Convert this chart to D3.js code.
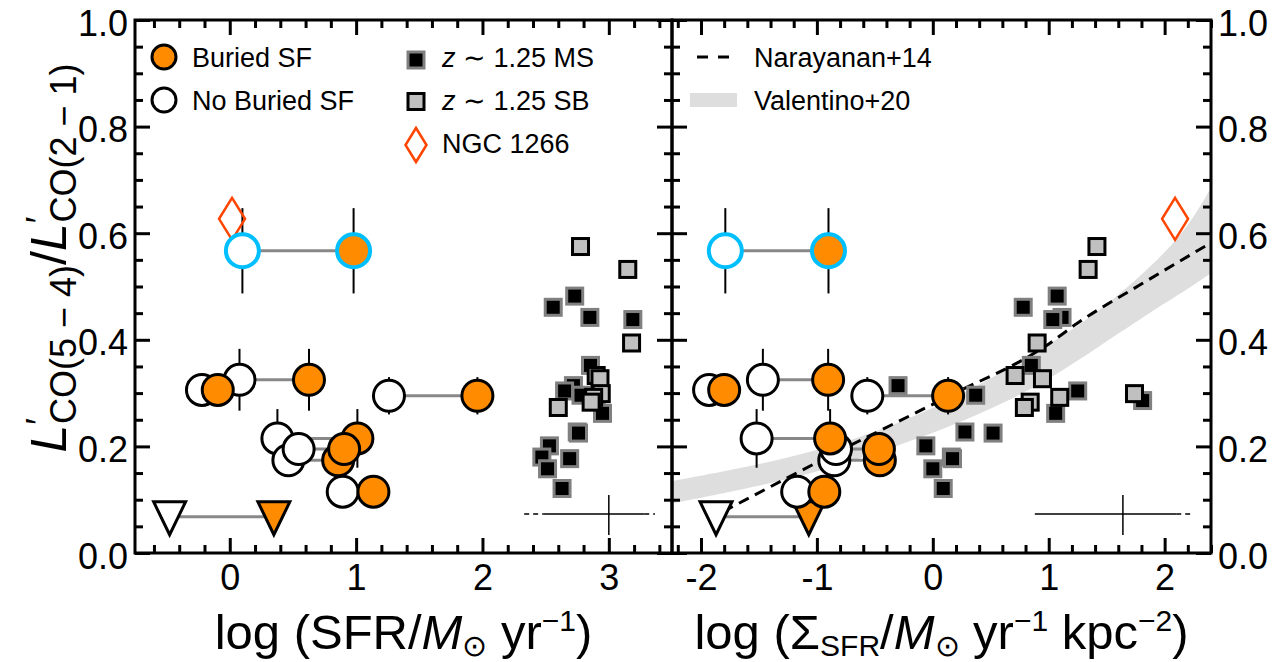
<!DOCTYPE html>
<html>
<head>
<meta charset="utf-8">
<script src="https://cdn.jsdelivr.net/npm/d3@7"></script>
<style>
  body { margin: 0; background: #fff; }
  text { font-family: "Liberation Sans", Arial, Helvetica, sans-serif; }
</style>
</head>
<body>
<div id="chart"></div>
<script>
// --- our sample: each galaxy has an open (no buried SF) and a filled (buried SF) point
const ratio      = [0.567, 0.325, 0.306, 0.295, 0.215, 0.174, 0.195, 0.115];
const ratioErr   = [0.08, 0.058, 0, 0.035, 0.055, 0, 0, 0];
const sfrOpen    = [0.10, 0.077, -0.22, 1.26, 0.377, 0.464, 0.545, 0.894];
const sfrBuried  = [0.98, 0.627, -0.095, 1.96, 1.01, 0.858, 0.905, 1.137];
const sigOpen    = [-1.79, -1.466, -1.93, -0.565, -1.52, -0.85, -0.835, -1.17];
const sigBuried  = [-0.90, -0.903, -1.80, 0.132, -0.886, -0.457, -0.465, -0.936];
const highlight  = [true, false, false, false, false, false, false, false];

// upper limit galaxy (triangles)
const limRatio     = [0.068];
const limSfrOpen   = [-0.476];
const limSfrBuried = [0.349];
const limSigOpen   = [-1.87];
const limSigBuried = [-1.07];

// NGC 1266
const ngcRatio = [0.627];
const ngcSfr   = [0.018];
const ngcSig   = [2.09];

// z ~ 1.25 main sequence
const msRatio = [0.482, 0.461, 0.442, 0.438, 0.352, 0.314, 0.304, 0.296, 0.286, 0.262, 0.227, 0.225, 0.201, 0.180, 0.177, 0.158, 0.121];
const msSfr   = [2.73, 2.56, 2.85, 3.19, 2.855, 2.72, 2.65, 2.78, 2.90, 2.95, 2.75, 2.76, 2.53, 2.47, 2.69, 2.515, 2.63];
const msSig   = [1.073, 0.78, 1.115, 1.035, 0.85, -0.30, 1.25, 0.37, 1.81, 1.06, 0.277, 0.52, -0.06, 0.16, 0.17, 0.0, 0.09];

// z ~ 1.25 starbursts
const sbRatio = [0.575, 0.532, 0.394, 0.333, 0.327, 0.299, 0.292, 0.283, 0.273];
const sbSfr   = [2.776, 3.15, 3.18, 2.90, 2.93, 2.94, 2.88, 2.86, 2.60];
const sbSig   = [1.416, 1.34, 0.90, 0.71, 0.946, 1.74, 1.095, 0.84, 0.79];

// typical uncertainty crosses
const crossSfr = { x: 3.0, y: 0.073, solid: [2.48, 3.28], dash: [[2.33, 2.48], [3.28, 3.365]], yr: [0.034, 0.109] };
const crossSig = { x: 1.64, y: 0.073, solid: [0.88, 2.10], dash: [[2.10, 2.22]], yr: [0.034, 0.109] };

// Narayanan+14 model
const narX = [-1.81, -0.9, 0.126, 0.985, 1.24, 1.81, 2.4];
const narY = [0.0775, 0.181, 0.293, 0.39, 0.43, 0.506, 0.582];

// Valentino+20 band
const valX  = [-2.25, -1.5, -0.9, -0.45, 0.13, 0.6, 1.0, 1.45, 1.9, 2.2, 2.4];
const valLo = [0.093, 0.125, 0.158, 0.19, 0.235, 0.28, 0.325, 0.39, 0.455, 0.495, 0.525];
const valHi = [0.135, 0.165, 0.198, 0.23, 0.283, 0.34, 0.39, 0.455, 0.54, 0.61, 0.685];

// ticks
const sfrTicks = [0, 1, 2, 3];
const sigTicks = [-2, -1, 0, 1, 2];
const sigTickLabels = ["-2", "-1", "0", "1", "2"];
const ratioTicks = [0, 0.2, 0.4, 0.6, 0.8, 1.0];

const orange = "#ff8c00", cyan = "#00bfff", ngcRed = "#ff4500";

const width = 1283, height = 662;
const svg = d3.select("#chart").append("svg")
  .attr("width", width)
  .attr("height", height);

const y = d3.scaleLinear().domain([0, 1]).range([553, 20]);
const xSfr = d3.scaleLinear().domain([-0.75, 3.5]).range([135, 672]);
const xSig = d3.scaleLinear().domain([-2.25, 2.4]).range([672, 1211]);

const minorY = d3.range(0, 1.0001, 0.05).filter(v => Math.abs(v * 5 - Math.round(v * 5)) > 1e-6);

function minorX(x) {
  const [a, b] = x.domain();
  return d3.range(Math.ceil(a * 5), Math.floor(b * 5) + 1).map(v => v / 5).filter(v => Math.abs(v - Math.round(v)) > 1e-6);
}

function styleAxis(g, fs) {
  g.select(".domain").remove();
  g.selectAll(".tick line").attr("stroke", "#000").attr("stroke-width", 3);
  g.selectAll(".tick text").attr("fill", "#000").style("font-size", fs + "px");
}

function drawFrame(x, majors, labels, side) {
  const [x0, x1] = x.range();
  const fmt = d => labels[majors.indexOf(d)];
  // bottom
  svg.append("g").attr("transform", `translate(0,${y(0)})`)
    .call(d3.axisBottom(x).tickValues(majors).tickSize(-15).tickPadding(11).tickFormat(fmt))
    .call(g => styleAxis(g, 36));
  svg.append("g").attr("transform", `translate(0,${y(0)})`)
    .call(d3.axisBottom(x).tickValues(minorX(x)).tickSize(-8).tickFormat(""))
    .call(g => styleAxis(g, 36));
  // top
  svg.append("g").attr("transform", `translate(0,${y(1)})`)
    .call(d3.axisTop(x).tickValues(majors).tickSize(-15).tickFormat(""))
    .call(g => styleAxis(g, 36));
  svg.append("g").attr("transform", `translate(0,${y(1)})`)
    .call(d3.axisTop(x).tickValues(minorX(x)).tickSize(-8).tickFormat(""))
    .call(g => styleAxis(g, 36));
  // left / right
  const yl = d3.axisLeft(y).tickValues(ratioTicks).tickSize(-15).tickPadding(7).tickFormat(side === "left" ? d3.format(".1f") : "");
  const yr = d3.axisRight(y).tickValues(ratioTicks).tickSize(-15).tickPadding(7).tickFormat(side === "right" ? d3.format(".1f") : "");
  svg.append("g").attr("transform", `translate(${x0},0)`).call(yl).call(g => styleAxis(g, 36))
    .selectAll(".tick text").attr("dy", "0.42em");
  svg.append("g").attr("transform", `translate(${x1},0)`).call(yr).call(g => styleAxis(g, 36))
    .selectAll(".tick text").attr("dy", "0.42em");
  svg.append("g").attr("transform", `translate(${x0},0)`)
    .call(d3.axisLeft(y).tickValues(minorY).tickSize(-8).tickFormat("")).call(g => styleAxis(g, 36));
  svg.append("g").attr("transform", `translate(${x1},0)`)
    .call(d3.axisRight(y).tickValues(minorY).tickSize(-8).tickFormat("")).call(g => styleAxis(g, 36));
  svg.append("rect")
    .attr("x", x0).attr("y", y(1))
    .attr("width", x1 - x0).attr("height", y(0) - y(1))
    .attr("fill", "none").attr("stroke", "#000").attr("stroke-width", 3);
}

const triPath = "M-16,-15L16,-15L0,18Z";
const sq = 16;

function drawPanel(x, xOpen, xBuried, limOpen, limBuried, msX, sbX, ngcX, cross, clipId) {
  const g = svg.append("g").attr("clip-path", `url(#${clipId})`);

  // comparison squares
  g.append("g").selectAll("rect")
    .data(msX.map((v, i) => [v, msRatio[i]]))
    .join("rect")
    .attr("x", d => x(d[0]) - sq / 2).attr("y", d => y(d[1]) - sq / 2)
    .attr("width", sq).attr("height", sq)
    .attr("fill", "#000").attr("stroke", "#808080").attr("stroke-width", 3);
  g.append("g").selectAll("rect")
    .data(sbX.map((v, i) => [v, sbRatio[i]]))
    .join("rect")
    .attr("x", d => x(d[0]) - sq / 2).attr("y", d => y(d[1]) - sq / 2)
    .attr("width", sq).attr("height", sq)
    .attr("fill", "#c0c0c0").attr("stroke", "#000").attr("stroke-width", 3);

  // typical uncertainty
  const cg = g.append("g").attr("stroke", "#000").attr("stroke-width", 1.5);
  cg.append("line").attr("x1", x(cross.solid[0])).attr("x2", x(cross.solid[1]))
    .attr("y1", y(cross.y)).attr("y2", y(cross.y));
  cross.dash.forEach(dd => cg.append("line").attr("x1", x(dd[0])).attr("x2", x(dd[1]))
    .attr("y1", y(cross.y)).attr("y2", y(cross.y)).attr("stroke-dasharray", "5,4"));
  cg.append("line").attr("x1", x(cross.x)).attr("x2", x(cross.x))
    .attr("y1", y(cross.yr[0])).attr("y2", y(cross.yr[1]));

  // connectors
  g.append("g").selectAll("line")
    .data(ratio.map((r, i) => i))
    .join("line")
    .attr("x1", i => x(xOpen[i])).attr("x2", i => x(xBuried[i]))
    .attr("y1", i => y(ratio[i])).attr("y2", i => y(ratio[i]))
    .attr("stroke", "#888").attr("stroke-width", 3);
  g.append("g").selectAll("line")
    .data(limRatio.map((r, i) => i))
    .join("line")
    .attr("x1", i => x(limOpen[i])).attr("x2", i => x(limBuried[i]))
    .attr("y1", i => y(limRatio[i])).attr("y2", i => y(limRatio[i]))
    .attr("stroke", "#888").attr("stroke-width", 3);

  // error bars
  const withErr = ratio.map((r, i) => i).filter(i => ratioErr[i] > 0);
  g.append("g").selectAll("line")
    .data(withErr.flatMap(i => [[xOpen[i], i], [xBuried[i], i]]))
    .join("line")
    .attr("x1", d => x(d[0])).attr("x2", d => x(d[0]))
    .attr("y1", d => y(ratio[d[1]] - ratioErr[d[1]])).attr("y2", d => y(ratio[d[1]] + ratioErr[d[1]]))
    .attr("stroke", "#000").attr("stroke-width", 2);

  // NGC 1266
  g.append("g").selectAll("path")
    .data(ngcX.map((v, i) => [v, ngcRatio[i]]))
    .join("path")
    .attr("d", "M0,-21L13,0L0,21L-13,0Z")
    .attr("transform", d => `translate(${x(d[0])},${y(d[1])})`)
    .attr("fill", "none").attr("stroke", ngcRed).attr("stroke-width", 2.5);

  // triangles
  g.append("g").selectAll("path")
    .data(limRatio.flatMap((r, i) => [[limOpen[i], r, "#fff"], [limBuried[i], r, orange]]))
    .join("path")
    .attr("d", triPath)
    .attr("transform", d => `translate(${x(d[0])},${y(d[1])})`)
    .attr("fill", d => d[2]).attr("stroke", "#000").attr("stroke-width", 3);

  // circles: open first, then buried
  const idx = ratio.map((r, i) => i);
  g.append("g").selectAll("circle")
    .data(idx)
    .join("circle")
    .attr("cx", i => x(xOpen[i])).attr("cy", i => y(ratio[i]))
    .attr("r", i => highlight[i] ? 16.5 : 15.5)
    .attr("fill", "#fff")
    .attr("stroke", i => highlight[i] ? cyan : "#000")
    .attr("stroke-width", i => highlight[i] ? 4 : 3);
  g.append("g").selectAll("circle")
    .data(idx)
    .join("circle")
    .attr("cx", i => x(xBuried[i])).attr("cy", i => y(ratio[i]))
    .attr("r", i => highlight[i] ? 16.5 : 15.5)
    .attr("fill", orange)
    .attr("stroke", i => highlight[i] ? cyan : "#000")
    .attr("stroke-width", i => highlight[i] ? 4 : 3);
}

// clip paths
const defs = svg.append("defs");
[["clipL", xSfr], ["clipR", xSig]].forEach(([id, x]) => {
  defs.append("clipPath").attr("id", id).append("rect")
    .attr("x", x.range()[0]).attr("y", y(1))
    .attr("width", x.range()[1] - x.range()[0]).attr("height", y(0) - y(1));
});

// right panel models
const models = svg.append("g").attr("clip-path", "url(#clipR)");
models.append("path")
  .datum(valX.map((v, i) => i))
  .attr("fill", "#dedede")
  .attr("d", d3.area().curve(d3.curveBasis)
    .x(i => xSig(valX[i])).y0(i => y(valLo[i])).y1(i => y(valHi[i])));
models.append("path")
  .datum(narX.map((v, i) => i))
  .attr("fill", "none").attr("stroke", "#000").attr("stroke-width", 3)
  .attr("stroke-dasharray", "11,7")
  .attr("d", d3.line().curve(d3.curveMonotoneX).x(i => xSig(narX[i])).y(i => y(narY[i])));

drawPanel(xSfr, sfrOpen, sfrBuried, limSfrOpen, limSfrBuried, msSfr, sbSfr, ngcSfr, crossSfr, "clipL");
drawPanel(xSig, sigOpen, sigBuried, limSigOpen, limSigBuried, msSig, sbSig, ngcSig, crossSig, "clipR");

drawFrame(xSfr, sfrTicks, sfrTicks.map(String), "left");
drawFrame(xSig, sigTicks, sigTickLabels, "right");

// legends
const leg = svg.append("g").style("font-size", "27px");
leg.append("circle").attr("cx", 164).attr("cy", 57).attr("r", 12)
  .attr("fill", orange).attr("stroke", "#000").attr("stroke-width", 3);
leg.append("text").attr("x", 192).attr("y", 66.5).text("Buried SF");
leg.append("circle").attr("cx", 164).attr("cy", 100).attr("r", 12)
  .attr("fill", "#fff").attr("stroke", "#000").attr("stroke-width", 3);
leg.append("text").attr("x", 192).attr("y", 109.5).text("No Buried SF");

leg.append("rect").attr("x", 408).attr("y", 52).attr("width", sq).attr("height", sq)
  .attr("fill", "#000").attr("stroke", "#808080").attr("stroke-width", 3);
leg.append("text").attr("x", 442).attr("y", 66.5)
  .call(t => {
    t.append("tspan").style("font-style", "italic").text("z");
    t.append("tspan").text(" ∼ 1.25 MS");
  });
leg.append("rect").attr("x", 408).attr("y", 93.5).attr("width", sq).attr("height", sq)
  .attr("fill", "#c0c0c0").attr("stroke", "#000").attr("stroke-width", 3);
leg.append("text").attr("x", 442).attr("y", 109.5)
  .call(t => {
    t.append("tspan").style("font-style", "italic").text("z");
    t.append("tspan").text(" ∼ 1.25 SB");
  });
leg.append("path").attr("d", "M0,-17L10.5,0L0,17L-10.5,0Z")
  .attr("transform", "translate(416,145)")
  .attr("fill", "none").attr("stroke", ngcRed).attr("stroke-width", 2.5);
leg.append("text").attr("x", 442).attr("y", 153).text("NGC 1266");

leg.append("line").attr("x1", 697).attr("x2", 730).attr("y1", 57).attr("y2", 57)
  .attr("stroke", "#000").attr("stroke-width", 3).attr("stroke-dasharray", "11,10");
leg.append("text").attr("x", 754).attr("y", 66.5).text("Narayanan+14");
leg.append("rect").attr("x", 690).attr("y", 93).attr("width", 47).attr("height", 14).attr("fill", "#dedede");
leg.append("text").attr("x", 754).attr("y", 109.5).text("Valentino+20");

// axis titles
const xt = svg.append("g").style("font-size", "49px").attr("text-anchor", "middle");
xt.append("text").attr("x", (xSfr.range()[0] + xSfr.range()[1]) / 2).attr("y", 649)
  .call(t => {
    t.append("tspan").text("log (SFR/");
    t.append("tspan").style("font-style", "italic").text("M");
    t.append("tspan").attr("dy", 7).style("font-size", "30px").text("⊙");
    t.append("tspan").attr("dy", -7).text(" yr");
    t.append("tspan").attr("dy", -18).style("font-size", "30px").text("−1");
    t.append("tspan").attr("dy", 18).text(")");
  });
xt.append("text").attr("x", (xSig.range()[0] + xSig.range()[1]) / 2).attr("y", 649)
  .call(t => {
    t.append("tspan").text("log (Σ");
    t.append("tspan").attr("dy", 7).style("font-size", "30px").text("SFR");
    t.append("tspan").attr("dy", -7).text("/");
    t.append("tspan").style("font-style", "italic").text("M");
    t.append("tspan").attr("dy", 7).style("font-size", "30px").text("⊙");
    t.append("tspan").attr("dy", -7).text(" yr");
    t.append("tspan").attr("dy", -18).style("font-size", "30px").text("−1");
    t.append("tspan").attr("dy", 18).text(" kpc");
    t.append("tspan").attr("dy", -18).style("font-size", "30px").text("−2");
    t.append("tspan").attr("dy", 18).text(")");
  });

// y title
svg.append("text")
  .attr("transform", "translate(66,258) rotate(-90)")
  .attr("text-anchor", "middle")
  .style("font-size", "50px")
  .call(t => {
    t.append("tspan").style("font-style", "italic").text("L");
    t.append("tspan").attr("dy", -14).style("font-size", "36px").text("′");
    t.append("tspan").attr("dx", -6).attr("dy", 24).style("font-size", "36px").text("CO(5 − 4)");
    t.append("tspan").attr("dy", -10).text("/");
    t.append("tspan").style("font-style", "italic").text("L");
    t.append("tspan").attr("dy", -14).style("font-size", "36px").text("′");
    t.append("tspan").attr("dx", -6).attr("dy", 24).style("font-size", "36px").text("CO(2 − 1)");
  });
</script>
</body>
</html>
